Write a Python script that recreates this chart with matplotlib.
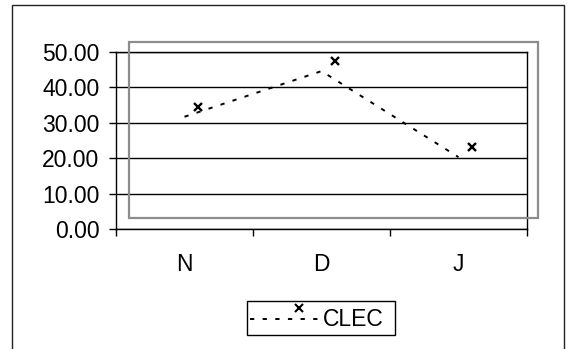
import matplotlib
matplotlib.use("Agg")
import matplotlib.pyplot as plt
import matplotlib.transforms as mtransforms
from matplotlib.patches import Rectangle
from matplotlib.lines import Line2D

plt.rcParams['font.family'] = ['Liberation Sans', 'DejaVu Sans']

# data
months = ["N", "D", "J"]
clec = [31.7, 44.6, 20.3]
yticks = [0, 10, 20, 30, 40, 50]

W, H = 572, 349
fig = plt.figure(figsize=(W / 100, H / 100), dpi=100)

def fx(px):
    return px / W

def fy(py):
    return 1 - py / H

# outer chart border (bottom runs off the image)
fig.add_artist(Rectangle((fx(12), fy(352)), fx(564) - fx(12), fy(5) - fy(352),
                         transform=fig.transFigure, fill=False,
                         edgecolor="#222222", lw=1.0, clip_on=False))

ax = fig.add_axes([fx(116), fy(229), fx(527) - fx(116), fy(52) - fy(229)])
x = list(range(len(months)))

ax.plot(x, clec, color="black", lw=1.4, linestyle=(0, (2.2, 4.3)))
# markers are drawn shifted, as in the original rendering
shift = mtransforms.ScaledTranslation(13 / 100, 10 / 100, fig.dpi_scale_trans)
ax.plot(x, clec, linestyle="none", marker="x", color="black",
        markersize=6, markeredgewidth=1.7, transform=ax.transData + shift,
        clip_on=False)

ax.set_xlim(-0.5, len(months) - 0.5)
ax.set_ylim(0, 50)
ax.set_yticks(yticks)
ax.set_yticklabels([f"{v:.2f}" for v in yticks])
ax.grid(axis="y", color="black", lw=1.0)
ax.set_axisbelow(True)
for s in ax.spines.values():
    s.set_color("black")
    s.set_linewidth(1.0)

ax.set_xticks(x)
ax.set_xticklabels(months)
ax.set_xticks([i - 0.5 for i in range(len(months) + 1)], minor=True)
ax.tick_params(axis="x", which="major", length=0, pad=17, labelsize=16.5)
ax.tick_params(axis="x", which="minor", length=5, width=1.0, direction="out")
ax.tick_params(axis="y", length=5, width=1.0, pad=7, labelsize=16.5)

# grey plot-area frame, offset like the original
fig.add_artist(Rectangle((fx(129), fy(218)), fx(538) - fx(129), fy(42) - fy(218),
                         transform=fig.transFigure, fill=False,
                         edgecolor="#8c8c8c", lw=1.6))

# legend drawn by hand
fig.add_artist(Rectangle((fx(247), fy(335)), fx(395) - fx(247), fy(301) - fy(335),
                         transform=fig.transFigure, fill=False,
                         edgecolor="black", lw=1.0))
fig.add_artist(Line2D([fx(250), fx(321)], [fy(319), fy(319)],
                      transform=fig.transFigure, color="black", lw=1.4,
                      linestyle=(0, (2.2, 4.3))))
fig.add_artist(Line2D([fx(299)], [fy(308)], transform=fig.transFigure,
                      linestyle="none", marker="x", color="black",
                      markersize=5.5, markeredgewidth=1.5))
fig.text(fx(323), fy(319), "CLEC", fontsize=16.5, va="center", ha="left")

fig.savefig("out.png", dpi=100)
